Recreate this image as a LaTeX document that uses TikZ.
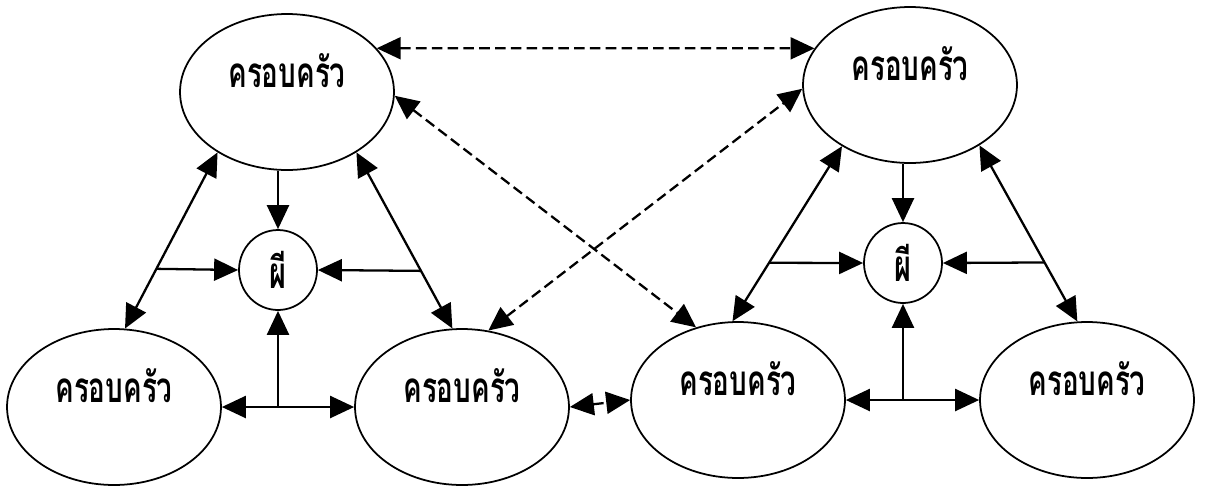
\documentclass[tikz,border=0pt]{standalone}
\usepackage{fontspec}
\newfontfamily\thaifont[Script=Thai,FakeStretch=0.66]{Loma}
\usetikzlibrary{shapes.geometric,arrows.meta}

\begin{document}
\begin{tikzpicture}[x=0.02cm,y=-0.02cm,
    fam/.style={draw,ellipse,line width=1pt,inner sep=0pt,
      minimum width=4.28cm,minimum height=3.12cm,
      font=\thaifont\bfseries\fontsize{24}{28}\selectfont,
      text height=0.5cm,text depth=0.7cm},
    ghost/.style={draw,ellipse,line width=1pt,inner sep=0pt,
      minimum width=1.56cm,minimum height=1.6cm,
      font=\thaifont\bfseries\fontsize{25}{28}\selectfont},
    tri/.tip={Triangle[length=0.48cm,width=0.44cm]},
    arr/.style={-tri,line width=1.3pt},
    dbl/.style={tri-tri,line width=1.3pt},
    dsh/.style={tri-tri,line width=1.3pt,dash pattern=on 6pt off 3pt}]
      \useasboundingbox (0,0) rectangle (1205,488);
      \def \Fams {
        T1/287/92,
        BL/114/407,
        BR1/462/407,
        T2/910/85,
        BR2/738/400,
        BR3/1087/400}

      \foreach \id / \x / \y in \Fams {
        \node[fam] (\id) at (\x, \y) {ครอบครัว};
      }
      \node[ghost] (G1) at (278,270) {ผี};
      \node[ghost] (G2) at (903,263) {ผี};

      % left group
      \draw[arr] (G1.north |- T1.south) -- (G1.north);
      \draw[dbl] (T1.221) -- coordinate[pos=0.661] (l1) (BL.82);
      \draw[dbl] (T1.319) -- coordinate[pos=0.673] (r1) (BR1.97);
      \draw[arr] (l1) -- (G1.west);
      \draw[arr] (r1) -- (G1.east);
      \coordinate (j1) at (G1.south |- BL.east);
      \draw[arr] (j1) -- (G1.south);
      \draw[arr] (j1) -- (BL.east);
      \draw[arr] (j1) -- (BR1.west);

      % right group
      \draw[arr] (G2.north |- T2.south) -- (G2.north);
      \draw[dbl] (T2.222) -- coordinate[pos=0.666] (l2) (BR2.94);
      \draw[dbl] (T2.319) -- coordinate[pos=0.665] (r2) (BR3.97);
      \draw[arr] (l2) -- (G2.west);
      \draw[arr] (r2) -- (G2.east);
      \coordinate (j2) at (G2.south |- BR2.east);
      \draw[arr] (j2) -- (G2.south);
      \draw[arr] (j2) -- (BR2.east);
      \draw[arr] (j2) -- (BR3.west);

      % between the groups
      \draw[dsh] (T1.26) -- (T2.159);
      \draw[dsh] (T1.358) -- (BR2.120);
      \draw[dsh] (BR1.71) -- (T2.182);
      \draw[dsh] (BR1.east) -- (BR2.west);
    \end{tikzpicture}
\end{document}
